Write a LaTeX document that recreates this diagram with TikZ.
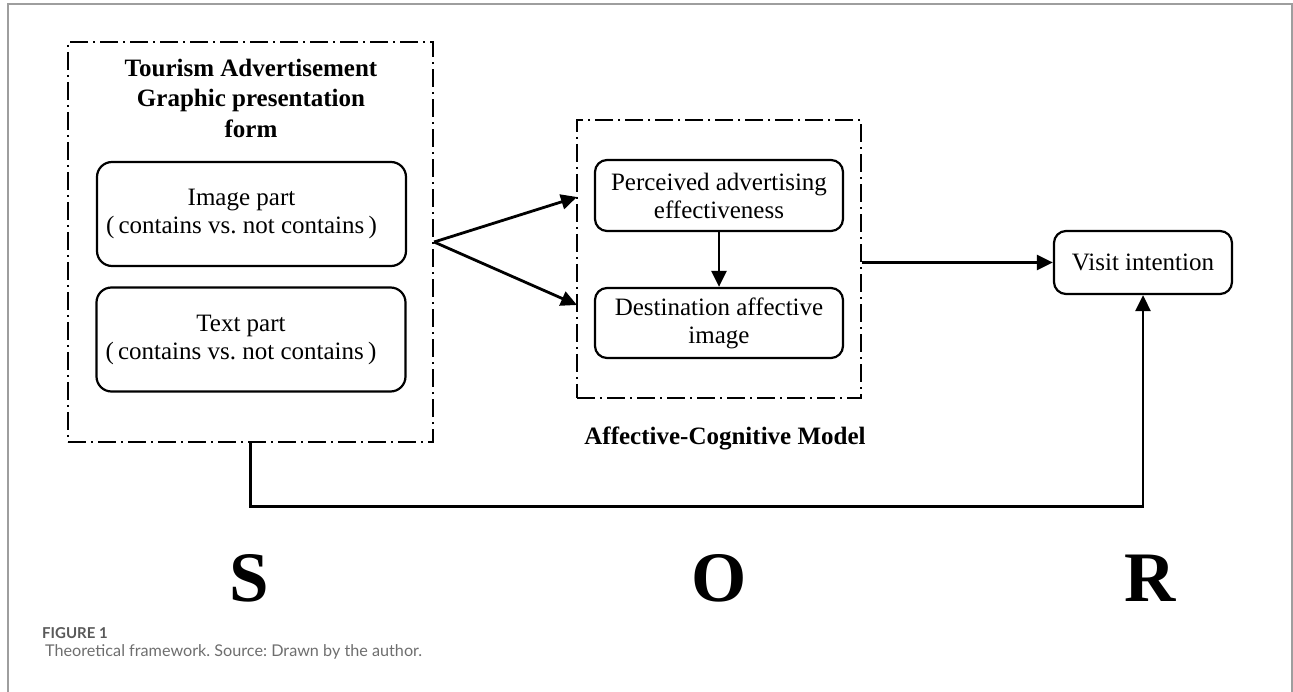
\documentclass[tikz,border=0pt]{standalone}
\usepackage{fontspec}
\setmainfont{Liberation Serif}
\newfontfamily\capfont{Lato}
\usetikzlibrary{arrows.meta,positioning}
\frenchspacing

\begin{document}
\begin{tikzpicture}[
  x=1pt, y=-1pt,
  font=\fontsize{25}{28}\selectfont,
  grp/.style={draw, line width=2.2pt, inner sep=0pt,
              dash pattern=on 18pt off 5pt on 2pt off 5pt},
  part/.style={draw, line width=2.2pt, rounded corners=15pt, align=center,
               inner sep=0pt, minimum width=309pt, minimum height=104pt},
  var/.style={draw, line width=2.2pt, rounded corners=12pt, align=center,
              inner sep=0pt},
  ttl/.style={font=\bfseries\fontsize{25}{30.5}\selectfont, align=center},
  sor/.style={font=\bfseries\fontsize{71}{71}\selectfont},
  arr/.style={-{Triangle[length=16pt,width=15pt]}, line width=2.8pt}
]
\useasboundingbox (0,0) rectangle (1293,692);

% journal frame
\draw[black!38, line width=2pt] (8,692) -- (8,4) -- (1291.5,4) -- (1291.5,692);

% S: advertisement form
\node[grp, minimum width=365pt, minimum height=400pt] (stim) at (250.5,242) {};
\node[ttl] (stimttl) at (251,98) {Tourism Advertisement\\Graphic presentation\\form};
\node[part] (img) at (251.5,214)
  {Image part\hspace*{20pt}\\(\,contains vs. not contains\,)\hspace*{20pt}};
\node[part] (txt) at (251,339.5)
  {Text part\hspace*{20pt}\\(\,contains vs. not contains\,)\hspace*{20pt}};

% O: affective-cognitive model
\node[grp, minimum width=284pt, minimum height=278pt] (org) at (719,259) {};
\node[var, minimum width=248pt, minimum height=71pt] (pae) at (719,195.5)
  {Perceived advertising\\effectiveness};
\node[var, minimum width=248pt, minimum height=70pt] (dai) at (719,323)
  {Destination affective\\image};
\node[ttl] (orgttl) at (725,438) {Affective-Cognitive Model};

% R
\node[var, minimum width=178pt, minimum height=63pt] (vis) at (1143,262.5) {Visit intention};

\coordinate (inA) at (577,197);
\coordinate (inB) at (577,305);

\draw[arr] (stim.east) -- (inA);
\draw[arr] (stim.east) -- (inB);
\draw[arr] (pae) -- (dai);
\draw[arr] (org.east |- vis.west) -- (vis.west);
\draw[arr] (stim.south) -- ++(0,63) -| (vis.south);

\node[sor] (s) at (249,578) {S};
\node[sor] (o) at (719,578) {O};
\node[sor] (r) at (1150,578) {R};

% caption
\node[font=\capfont\bfseries\fontsize{15}{17}\selectfont, text=black!65, anchor=west,
      inner sep=0pt] (fig) at (42,633) {FIGURE 1};
\node[font=\capfont\fontsize{16.2}{19}\selectfont, text=black!57, anchor=west,
      inner sep=0pt] (cap) at (45,652) {Theoretical framework. Source: Drawn by the author.};

\end{tikzpicture}
\end{document}
